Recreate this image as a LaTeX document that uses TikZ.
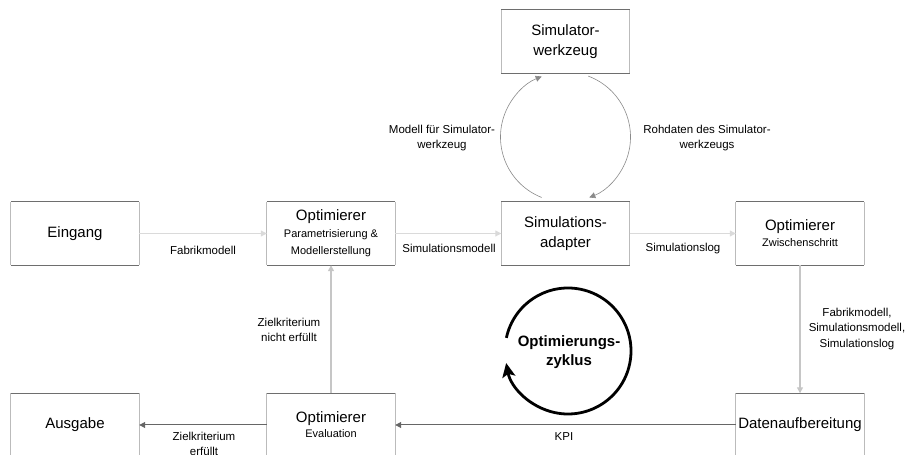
\documentclass[tikz,border=0pt]{standalone}
\usepackage{fontspec}
\setmainfont{Liberation Sans}
\usetikzlibrary{arrows.meta,calc}
\definecolor{hedgec}{HTML}{6E6E6E}
\definecolor{vedgec}{HTML}{BBBBBB}
\definecolor{toplinec}{HTML}{DADADA}
\definecolor{vlinec}{HTML}{C6C6C6}
\definecolor{botlinec}{HTML}{666666}
\definecolor{arcc}{HTML}{8A8A8A}
\newcommand{\subf}{\fontsize{11}{13}\selectfont}
\begin{document}
\begin{tikzpicture}[x=1pt,y=1pt,
  box/.style={minimum width=128pt,minimum height=63pt,inner sep=0pt,align=center,
    font=\fontsize{15}{20.5}\selectfont},
  hedge/.style={draw=hedgec,line width=0.9pt},
  vedge/.style={draw=vedgec,line width=0.9pt},
  tip/.style={-{Triangle[length=6pt,width=6pt]}},
  toparrow/.style={tip,draw=toplinec,line width=1pt},
  varrow/.style={tip,draw=vlinec,line width=1.3pt},
  botarrow/.style={tip,draw=botlinec,line width=1pt},
  arcarrow/.style={-{Triangle[length=6pt,width=6pt]},draw=arcc,line width=0.6pt},
  lbl/.style={inner sep=0pt,align=center,font=\fontsize{11.5}{15.5}\selectfont}]
\useasboundingbox (0,0) rectangle (911,455);

% boxes
\node[box] (eingang) at (75,221.5) {Eingang};
\node[box] (param) at (331,221.5) {Optimierer\\[-3.5pt] \subf Parametrisierung \&\\[-3.5pt] \subf Modellerstellung};
\node[box] (adapter) at (565.5,221.5) {Simulations-\\adapter};
\node[box] (zw) at (800,221.5) {\raisebox{0pt}{Optimierer}\\[-4.5pt] \subf Zwischenschritt};
\node[box] (sim) at (565.5,413.5) {Simulator-\\werkzeug};
\node[box] (ausgabe) at (75,30) {Ausgabe};
\node[box] (eval) at (331,30) {Optimierer\\[-5.5pt] \subf Evaluation};
\node[box] (daten) at (800,30) {Datenaufbereitung};

\foreach \n in {eingang,param,adapter,zw,sim,ausgabe,eval,daten}{
  \draw[vedge] (\n.north west) -- (\n.south west) (\n.north east) -- (\n.south east);
  \draw[hedge] (\n.north west) -- (\n.north east) (\n.south west) -- (\n.south east);
}

% top row connectors
\draw[toparrow] (eingang.east) -- (param.west);
\draw[toparrow] (param.east) -- (adapter.west);
\draw[toparrow] (adapter.east) -- (zw.west);
\node[lbl] (l1) at (203,205) {Fabrikmodell};
\node[lbl] (l2) at (449,207) {Simulationsmodell};
\node[lbl] (l3) at (683,206) {Simulationslog};

% vertical connectors
\draw[varrow] (zw.south) -- (daten.north);
\draw[varrow] (eval.north) -- (param.south);
\node[lbl] (l4) at (857,126) {Fabrikmodell,\\Simulationsmodell,\\Simulationslog};
\node[lbl] (l5) at (289,125) {Zielkriterium\\nicht erfüllt};

% bottom row connectors
\draw[botarrow] (daten.west) -- (eval.east);
\draw[botarrow] (eval.west) -- (ausgabe.east);
\node[lbl] (l6) at (564,18) {KPI};
\node[lbl] (l7) at (204,11) {Zielkriterium\\erfüllt};

% simulator loop
\coordinate (sc) at (565.5,318);
\draw[arcarrow] (sc) ++(248.5:65pt) arc[start angle=248.5,end angle=111.5,radius=65pt];
\draw[arcarrow] (sc) ++(69.5:65pt) arc[start angle=69.5,end angle=-68.5,radius=65pt];
\node[lbl] (l8) at (442,317) {Modell für Simulator-\\werkzeug};
\node[lbl] (l9) at (707,317) {Rohdaten des Simulator-\\werkzeugs};

% optimisation cycle
\coordinate (cyc) at (568,104);
\draw[line width=2.8pt,-{Stealth[length=14pt,width=13pt,inset=3pt]}]
  (cyc) ++(168:63pt) arc[start angle=168,end angle=-169,radius=63pt];
\node[inner sep=0pt,align=center,font=\fontsize{15}{19}\selectfont\bfseries] (cyctext) at (569,103) {Optimierungs-\\zyklus};
\end{tikzpicture}
\end{document}
